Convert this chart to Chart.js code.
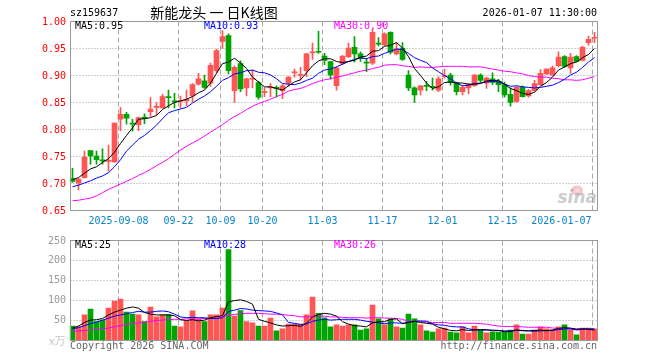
<!DOCTYPE html>
<html>
<head>
<meta charset="utf-8">
<script src="https://cdn.jsdelivr.net/npm/chart.js@4.4.1/dist/chart.umd.min.js"></script>
<style>
  html, body { margin: 0; padding: 0; background: #fff; }
  #wrap { position: relative; width: 660px; height: 360px; }
  #wrap canvas { position: absolute; left: 0; top: 0; }
</style>
</head>
<body>
<div id="wrap">
  <canvas id="price" width="660" height="360"></canvas>
  <canvas id="vol" width="660" height="360"></canvas>
</div>
<script>
// ---------- Data ----------
const DATES = [
  '2025-08-27','2025-08-28','2025-08-29','2025-09-01','2025-09-02','2025-09-03','2025-09-04','2025-09-05','2025-09-08','2025-09-09',
  '2025-09-10','2025-09-11','2025-09-12','2025-09-15','2025-09-16','2025-09-17','2025-09-18','2025-09-19','2025-09-22','2025-09-23',
  '2025-09-24','2025-09-25','2025-09-26','2025-09-29','2025-09-30','2025-10-09','2025-10-10','2025-10-13','2025-10-14','2025-10-15',
  '2025-10-16','2025-10-17','2025-10-20','2025-10-21','2025-10-22','2025-10-23','2025-10-24','2025-10-27','2025-10-28','2025-10-29',
  '2025-10-30','2025-10-31','2025-11-03','2025-11-04','2025-11-05','2025-11-06','2025-11-07','2025-11-10','2025-11-11','2025-11-12',
  '2025-11-13','2025-11-14','2025-11-17','2025-11-18','2025-11-19','2025-11-20','2025-11-21','2025-11-24','2025-11-25','2025-11-26',
  '2025-11-27','2025-11-28','2025-12-01','2025-12-02','2025-12-03','2025-12-04','2025-12-05','2025-12-08','2025-12-09','2025-12-10',
  '2025-12-11','2025-12-12','2025-12-15','2025-12-16','2025-12-17','2025-12-18','2025-12-19','2025-12-22','2025-12-23','2025-12-24',
  '2025-12-25','2025-12-26','2025-12-29','2025-12-30','2025-12-31','2026-01-05','2026-01-06','2026-01-07'
];

const OPEN = [
  0.709,0.701,0.711,0.761,0.751,0.744,0.741,0.740,0.819,0.828,
  0.812,0.809,0.823,0.833,0.841,0.840,0.861,0.853,0.852,0.853,
  0.862,0.884,0.890,0.886,0.909,0.963,0.974,0.872,0.922,0.877,
  0.893,0.887,0.868,0.877,0.878,0.872,0.886,0.905,0.900,0.909,
  0.942,0.944,0.936,0.926,0.881,0.922,0.935,0.952,0.940,0.924,
  0.923,0.959,0.957,0.980,0.940,0.951,0.901,0.877,0.873,0.881,
  0.879,0.873,0.898,0.901,0.887,0.870,0.877,0.881,0.901,0.886,
  0.894,0.889,0.883,0.865,0.852,0.878,0.862,0.872,0.883,0.903,
  0.901,0.918,0.935,0.914,0.935,0.928,0.961,0.969
];
const HIGH = [
  0.728,0.709,0.760,0.761,0.760,0.764,0.771,0.812,0.841,0.832,
  0.819,0.823,0.829,0.859,0.850,0.865,0.873,0.867,0.862,0.873,
  0.885,0.904,0.901,0.923,0.949,0.983,0.977,0.918,0.927,0.895,
  0.910,0.889,0.877,0.885,0.881,0.883,0.898,0.912,0.915,0.941,
  0.960,0.982,0.941,0.926,0.916,0.937,0.960,0.972,0.944,0.932,
  0.986,0.970,0.979,0.981,0.961,0.961,0.909,0.879,0.882,0.889,
  0.895,0.898,0.912,0.904,0.888,0.882,0.885,0.902,0.903,0.897,
  0.905,0.893,0.888,0.877,0.880,0.881,0.874,0.891,0.911,0.913,
  0.918,0.944,0.937,0.941,0.937,0.954,0.973,0.980
];
const LOW = [
  0.702,0.688,0.710,0.736,0.736,0.736,0.723,0.739,0.798,0.810,
  0.797,0.798,0.811,0.824,0.827,0.840,0.840,0.840,0.840,0.844,
  0.851,0.882,0.876,0.880,0.905,0.950,0.903,0.850,0.870,0.862,
  0.877,0.856,0.861,0.861,0.860,0.857,0.880,0.897,0.892,0.898,
  0.930,0.941,0.920,0.893,0.873,0.920,0.933,0.925,0.926,0.907,
  0.920,0.955,0.955,0.940,0.938,0.928,0.872,0.850,0.864,0.872,
  0.873,0.870,0.895,0.882,0.864,0.864,0.866,0.880,0.887,0.876,
  0.883,0.870,0.860,0.843,0.850,0.860,0.860,0.871,0.882,0.902,
  0.900,0.916,0.915,0.904,0.925,0.927,0.956,0.961
];
const CLOSE = [
  0.704,0.708,0.749,0.751,0.744,0.742,0.742,0.812,0.828,0.821,
  0.810,0.822,0.820,0.838,0.842,0.861,0.859,0.851,0.854,0.856,
  0.883,0.894,0.878,0.919,0.946,0.972,0.909,0.915,0.875,0.894,
  0.894,0.860,0.870,0.879,0.876,0.881,0.897,0.906,0.902,0.940,
  0.943,0.943,0.928,0.901,0.914,0.936,0.951,0.940,0.931,0.923,
  0.980,0.958,0.977,0.943,0.949,0.930,0.877,0.864,0.881,0.880,
  0.878,0.894,0.900,0.887,0.870,0.878,0.883,0.901,0.891,0.895,
  0.887,0.883,0.864,0.850,0.878,0.861,0.872,0.885,0.904,0.912,
  0.914,0.934,0.917,0.934,0.926,0.952,0.967,0.970
];

const MA5 = [
  0.707,0.711,0.719,0.727,0.731,0.739,0.746,0.758,0.774,0.789,
  0.803,0.819,0.820,0.822,0.826,0.837,0.844,0.850,0.853,0.856,
  0.861,0.868,0.873,0.886,0.904,0.922,0.925,0.932,0.923,0.913,
  0.897,0.888,0.879,0.879,0.876,0.873,0.881,0.888,0.892,0.905,
  0.918,0.927,0.931,0.931,0.926,0.924,0.926,0.928,0.934,0.936,
  0.945,0.946,0.954,0.956,0.961,0.951,0.935,0.913,0.900,0.886,
  0.876,0.879,0.887,0.888,0.886,0.886,0.884,0.884,0.885,0.890,
  0.891,0.891,0.884,0.876,0.872,0.867,0.865,0.869,0.880,0.887,
  0.897,0.910,0.916,0.922,0.925,0.933,0.939,0.950
];
const MA10 = [
  0.694,0.697,0.701,0.705,0.710,0.714,0.720,0.731,0.744,0.760,
  0.771,0.782,0.789,0.798,0.808,0.820,0.831,0.835,0.838,0.841,
  0.849,0.856,0.862,0.870,0.880,0.891,0.896,0.903,0.905,0.909,
  0.910,0.906,0.905,0.901,0.894,0.885,0.884,0.883,0.886,0.891,
  0.895,0.904,0.910,0.912,0.916,0.921,0.926,0.930,0.933,0.931,
  0.935,0.936,0.941,0.945,0.949,0.948,0.941,0.933,0.928,0.924,
  0.914,0.907,0.900,0.894,0.886,0.881,0.882,0.885,0.886,0.888,
  0.889,0.888,0.884,0.880,0.881,0.879,0.878,0.877,0.878,0.880,
  0.882,0.887,0.893,0.901,0.906,0.915,0.925,0.933
];
const MA30 = [
  0.668,0.669,0.671,0.673,0.677,0.683,0.689,0.694,0.699,0.704,
  0.709,0.715,0.720,0.726,0.733,0.739,0.746,0.754,0.762,0.769,
  0.775,0.781,0.788,0.795,0.802,0.809,0.817,0.824,0.830,0.837,
  0.843,0.848,0.852,0.856,0.861,0.865,0.871,0.874,0.876,0.880,
  0.885,0.889,0.892,0.894,0.897,0.899,0.902,0.905,0.908,0.910,
  0.913,0.915,0.919,0.920,0.920,0.918,0.917,0.915,0.916,0.915,
  0.915,0.916,0.917,0.917,0.917,0.917,0.916,0.916,0.916,0.914,
  0.912,0.910,0.908,0.907,0.905,0.903,0.900,0.898,0.897,0.897,
  0.895,0.894,0.892,0.892,0.891,0.892,0.895,0.898
];

// volume, in 万
const VOLUME = [
  35,34,63,78,46,50,80,98,103,70,
  65,63,46,83,58,63,64,35,33,48,
  73,52,46,63,63,80,227,60,74,46,
  43,35,35,55,23,28,40,40,40,63,
  108,67,56,33,38,35,38,38,25,28,
  88,53,38,53,33,30,65,53,38,23,
  20,28,30,20,18,33,18,35,25,18,
  20,20,20,25,38,15,15,25,33,28,
  25,33,38,25,13,30,30,28
];
const VOL_MA5 = [
  30,35,44,50,51,54,63,70,75,80,
  83,80,69,65,63,63,63,61,51,49,
  51,48,50,56,59,61,96,99,101,97,
  90,52,47,43,38,35,36,37,34,42,
  58,64,67,65,60,46,40,36,35,33,
  43,46,46,52,53,41,44,47,44,42,
  40,32,28,24,23,26,24,25,26,26,
  23,24,21,21,25,24,23,24,25,23,
  25,29,31,30,27,28,27,25
];
const VOL_MA10 = [
  28,31,36,41,45,50,55,60,63,66,
  69,72,70,70,72,73,71,65,58,56,
  57,56,56,54,54,56,72,75,79,78,
  75,74,73,72,68,63,44,42,39,40,
  47,50,52,50,51,52,52,52,50,47,
  45,43,41,43,43,42,45,47,48,47,
  41,38,37,34,33,33,28,26,25,25,
  25,24,23,23,25,23,23,22,23,24,
  24,26,28,28,25,27,28,28
];
const VOL_MA30 = [
  22,23,24,25,27,28,30,33,36,39,
  41,43,45,47,49,50,51,52,52,53,
  53,53,54,54,55,57,63,64,66,67,
  67,67,66,65,65,64,62,61,58,58,
  60,60,60,58,58,57,56,56,56,55,
  56,56,55,55,54,52,47,47,46,45,
  44,44,44,42,42,42,42,42,41,40,
  37,35,34,34,34,33,32,32,32,32,
  30,29,29,28,28,28,26,26
];

// axis ticks
const PRICE_TICKS = [1.00, 0.95, 0.90, 0.85, 0.80, 0.75, 0.70, 0.65];
const VOL_TICKS = [250, 200, 150, 100, 50];
const AXIS_DATES = ['2025-09-08','2025-09-22','2025-10-09','2025-10-20','2025-11-03','2025-11-17','2025-12-01','2025-12-15','2026-01-07'];
const AXIS_TEXT  = ['2025-09-08','09-22','10-09','10-20','11-03','11-17','12-01','12-15','2026-01-07'];

// ---------- Style ----------
const RED = '#ff5555';
const GREEN = '#00a400';
const MONO = '10px "DejaVu Sans Mono", "Liberation Mono", monospace';
const candleColors = OPEN.map((o, i) => CLOSE[i] >= o ? RED : GREEN);

Chart.defaults.animation = false;

function maLine(data, color) {
  return {
    type: 'line', data: data, borderColor: color, borderWidth: 1,
    pointRadius: 0, tension: 0, fill: false, order: 0
  };
}

// shared panel drawing: dotted h-grid, dashed v-grid, border
function drawGrid(chart, ticks) {
  const { ctx, chartArea: a, scales: { x, y } } = chart;
  const L = Math.round(a.left) + 0.5, R = Math.floor(a.right) + 0.5;
  const T = Math.floor(a.top) + 0.5, B = Math.floor(a.bottom) + 0.5;
  ctx.save();
  ctx.lineWidth = 1;
  ctx.strokeStyle = '#a0a0a0';
  ctx.setLineDash([1, 2]);
  ticks.forEach(v => {
    if (v >= y.max || v <= y.min) return;
    const py = Math.floor(y.getPixelForValue(v)) + 0.5;
    ctx.beginPath(); ctx.moveTo(L, py); ctx.lineTo(R, py); ctx.stroke();
  });
  ctx.setLineDash([5, 3]);
  ctx.strokeStyle = '#a8a8a8';
  AXIS_DATES.forEach(d => {
    const px = Math.floor(x.getPixelForValue(DATES.indexOf(d)) - 2.5) + 0.5;
    ctx.beginPath(); ctx.moveTo(px, T); ctx.lineTo(px, B); ctx.stroke();
  });
  ctx.restore();
}

function drawBorder(chart) {
  const { ctx, chartArea: a } = chart;
  const L = Math.round(a.left) + 0.5, R = Math.floor(a.right) + 0.5;
  const T = Math.floor(a.top) + 0.5, B = Math.floor(a.bottom) + 0.5;
  ctx.save();
  ctx.strokeStyle = '#999';
  ctx.lineWidth = 1;
  ctx.strokeRect(L, T, R - L, B - T);
  ctx.restore();
}

function text(ctx, str, x, y, color, align, font) {
  ctx.font = font || MONO;
  ctx.fillStyle = color;
  ctx.textAlign = align || 'left';
  ctx.textBaseline = 'middle';
  ctx.fillText(str, x, y);
}

// ---------- Price panel ----------
const pricePanel = {
  id: 'pricePanel',
  beforeDatasetsDraw(chart) {
    drawGrid(chart, PRICE_TICKS);
    // sina watermark, behind the candles
    const { ctx, chartArea: a } = chart;
    ctx.save();
    ctx.globalAlpha = 0.45;
    ctx.fillStyle = '#f08080';
    ctx.beginPath(); ctx.ellipse(577, a.bottom - 20, 6, 5, 0, 0, Math.PI * 2); ctx.fill();
    ctx.fillStyle = '#fff';
    ctx.beginPath(); ctx.arc(577, a.bottom - 20, 2, 0, Math.PI * 2); ctx.fill();
    ctx.globalAlpha = 0.5;
    text(ctx, 'sina', 597, a.bottom - 12, '#999', 'right', 'italic bold 17px "DejaVu Sans", sans-serif');
    ctx.restore();
  },
  afterDraw(chart) {
    const { ctx, chartArea: a, scales: { x, y } } = chart;
    drawBorder(chart);
    ctx.save();
    // y ticks
    PRICE_TICKS.forEach(v => text(ctx, v.toFixed(2), a.left - 3.5, y.getPixelForValue(v) + 0.5, '#ff0000', 'right'));
    // x labels
    AXIS_DATES.forEach((d, k) => {
      const px = Math.floor(x.getPixelForValue(DATES.indexOf(d)) - 2.5) + 0.5;
      ctx.font = MONO;
      const w = ctx.measureText(AXIS_TEXT[k]).width;
      if (px + w / 2 > a.right) text(ctx, AXIS_TEXT[k], px - 1, a.bottom + 11, '#0a84c8', 'right');
      else text(ctx, AXIS_TEXT[k], px, a.bottom + 11, '#0a84c8', 'center');
    });
    // header
    text(ctx, 'sz159637', 70, 13, '#000', 'left');
    text(ctx, '新能龙头 一 日K线图', 214, 12.5, '#000', 'center', '14px "Noto Sans CJK SC", sans-serif');
    text(ctx, '2026-01-07 11:30:00', 597, 13, '#000', 'right');
    // MA legend
    text(ctx, 'MA5:' + MA5[MA5.length - 1].toFixed(2), 75, a.top + 5, '#000');
    text(ctx, 'MA10:' + MA10[MA10.length - 1].toFixed(2), 204, a.top + 5, '#0000ff');
    text(ctx, 'MA30:' + MA30[MA30.length - 1].toFixed(2), 334, a.top + 5, '#ff00ff');
    ctx.restore();
  }
};

new Chart(document.getElementById('price'), {
  type: 'bar',
  data: {
    labels: DATES,
    datasets: [
      maLine(MA5, '#000000'),
      maLine(MA10, '#0000ff'),
      maLine(MA30, '#ff00ff'),
      {
        data: DATES.map((d, i) => [OPEN[i], CLOSE[i]]),
        backgroundColor: candleColors,
        barThickness: 5, minBarLength: 1, grouped: false, order: 1
      },
      {
        data: DATES.map((d, i) => [LOW[i], HIGH[i]]),
        backgroundColor: candleColors,
        barThickness: 1, grouped: false, order: 2
      }
    ]
  },
  options: {
    responsive: false,
    events: [],
    layout: { padding: { left: 69.5, right: 62.5, top: 21.5, bottom: 149.5 } },
    plugins: { legend: { display: false }, tooltip: { enabled: false } },
    scales: {
      x: { display: false, offset: true },
      y: { display: false, min: 0.65, max: 1.0 }
    }
  },
  plugins: [pricePanel]
});

// ---------- Volume panel ----------
const volPanel = {
  id: 'volPanel',
  beforeDatasetsDraw(chart) { drawGrid(chart, VOL_TICKS); },
  afterDraw(chart) {
    const { ctx, chartArea: a, scales: { y } } = chart;
    drawBorder(chart);
    ctx.save();
    VOL_TICKS.forEach(v => text(ctx, String(v), a.left - 3.5, y.getPixelForValue(v) + 0.5, '#999', 'right'));
    text(ctx, 'x万', a.left - 4, a.bottom + 1, '#c8c8c8', 'right', '11px "Noto Sans CJK SC", sans-serif');
    text(ctx, 'MA5:' + VOL_MA5[VOL_MA5.length - 1], 75, a.top + 5, '#000');
    text(ctx, 'MA10:' + VOL_MA10[VOL_MA10.length - 1], 204, a.top + 5, '#0000ff');
    text(ctx, 'MA30:' + VOL_MA30[VOL_MA30.length - 1], 334, a.top + 5, '#ff00ff');
    text(ctx, 'Copyright 2026 SINA.COM', 70, a.bottom + 6, '#666');
    text(ctx, 'http://finance.sina.com.cn', 597, a.bottom + 6, '#666', 'right');
    ctx.restore();
  }
};

new Chart(document.getElementById('vol'), {
  type: 'bar',
  data: {
    labels: DATES,
    datasets: [
      maLine(VOL_MA5, '#000000'),
      maLine(VOL_MA10, '#0000ff'),
      maLine(VOL_MA30, '#ff00ff'),
      {
        data: VOLUME,
        backgroundColor: candleColors,
        barThickness: 5, grouped: false, order: 1
      }
    ]
  },
  options: {
    responsive: false,
    events: [],
    layout: { padding: { left: 69.5, right: 62.5, top: 240.5, bottom: 20 } },
    plugins: { legend: { display: false }, tooltip: { enabled: false } },
    scales: {
      x: { display: false, offset: true },
      y: { display: false, min: 0, max: 250 }
    }
  },
  plugins: [volPanel]
});
</script>
</body>
</html>
